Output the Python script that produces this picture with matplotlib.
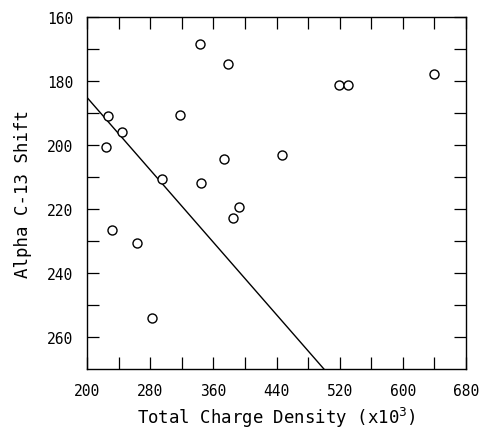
import numpy as np
import matplotlib.pyplot as plt
from matplotlib.ticker import FixedLocator, NullFormatter

# Points
charge = [343, 379, 640, 519, 530, 227, 318, 244, 224, 373, 447, 295,
          344, 392, 385, 232, 263, 282]
shift = [168.4, 174.7, 177.8, 181.4, 181.4, 191.0, 190.8, 196.1, 200.7,
         204.4, 203.3, 210.7, 211.8, 219.3, 222.8, 226.5, 230.6, 254.2]

# Fitted line end points
line_x = [200, 500]
line_y = [185.2, 270.0]

x_labels = [200, 280, 360, 440, 520, 600, 680]
x_minor = [240, 320, 400, 480, 560, 640]
y_labels = [160, 180, 200, 220, 240, 260]
y_minor = [170, 190, 210, 230, 250]

plt.rcParams['font.family'] = ['DejaVu Sans Mono']

fig = plt.figure(figsize=(4.83, 4.31), dpi=100)
ax = fig.add_axes([0.180, 0.1415, 0.785, 0.8175])

ax.plot(line_x, line_y, color='black', lw=1.0, clip_on=True)
ax.plot(charge, shift, 'o', ms=6.5, mfc='white', mec='black', mew=1.0,
        linestyle='none')

ax.set_xlim(200, 680)
ax.set_ylim(270, 160)

ax.xaxis.set_major_locator(FixedLocator(x_labels))
ax.xaxis.set_minor_locator(FixedLocator(x_minor))
ax.yaxis.set_major_locator(FixedLocator(y_labels))
ax.yaxis.set_minor_locator(FixedLocator(y_minor))
ax.xaxis.set_minor_formatter(NullFormatter())
ax.yaxis.set_minor_formatter(NullFormatter())

ax.tick_params(which='both', direction='in', top=True, right=True,
               length=8.5, width=0.9, labelsize=10.5, pad=10)

for s in ax.spines.values():
    s.set_linewidth(1.0)

ax.set_xlabel('Total Charge Density (x10$^3$)', fontsize=12.5, labelpad=5)
ax.set_ylabel('Alpha C-13 Shift', fontsize=12.5, labelpad=11)

fig.savefig('out.png', dpi=100)
